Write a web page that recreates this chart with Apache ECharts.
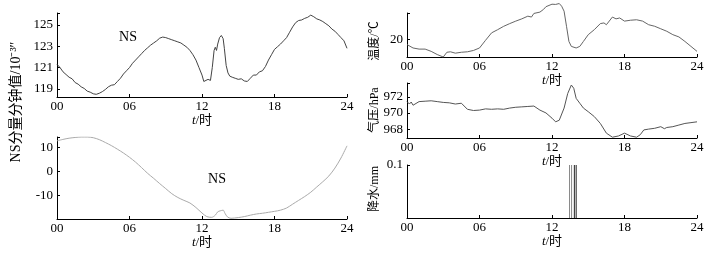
<!DOCTYPE html>
<html><head><meta charset="utf-8">
<script src="https://cdn.jsdelivr.net/npm/echarts@6/dist/echarts.min.js"></script>
<style>html,body{margin:0;padding:0;background:#fff}#c{width:725px;height:256px}</style>
</head><body><div id="c"></div>
<script>
// ---- data ----
const hourTickLabels = ['00', '06', '12', '18', '24'];

const nsHours = [0,0.25,0.5,0.75,1,1.25,1.5,1.75,2,2.25,2.5,2.75,3,3.25,3.5,3.75,4,4.25,4.5,4.75,5,5.25,5.5,5.75,6,6.25,6.5,6.75,7,7.25,7.5,7.75,8,8.25,8.5,8.75,9,9.25,9.5,9.75,10,10.25,10.5,10.75,11,11.25,11.5,11.75,12,12.15,12.3,12.5,12.7,12.85,13,13.1,13.2,13.3,13.45,13.6,13.75,13.85,14,14.15,14.3,14.5,14.75,15,15.25,15.5,15.75,16,16.25,16.5,16.75,17,17.25,17.5,17.75,18,18.25,18.5,18.75,19,19.25,19.5,19.75,20,20.25,20.5,20.75,21,21.25,21.5,21.75,22,22.25,22.5,22.75,23,23.25,23.5,23.75,24];
const nsMinute = [121.3,121.0,120.6,120.35,120.1,119.95,119.6,119.45,119.2,119.05,118.8,118.7,118.55,118.5,118.6,118.75,118.95,119.2,119.35,119.4,119.7,120.0,120.4,120.7,121.0,121.4,121.7,122.0,122.3,122.6,122.85,123.1,123.3,123.5,123.75,123.85,123.8,123.7,123.6,123.5,123.4,123.3,123.1,122.9,122.6,122.2,121.7,121.0,120.3,119.7,119.55,119.9,119.8,121.0,122.6,122.9,122.6,123.2,123.8,124.0,123.7,122.8,121.2,120.5,120.2,120.1,120.0,119.9,119.95,119.75,119.7,120.0,120.3,120.3,120.6,120.7,121.1,121.7,122.2,122.7,122.95,123.2,123.5,123.8,124.3,124.8,125.2,125.4,125.45,125.6,125.7,125.9,125.75,125.55,125.45,125.3,125.1,124.9,124.6,124.4,124.1,123.8,123.5,122.8];

const nsSmoothHours = [0,0.5,1,1.5,2,2.5,3,3.5,4,4.5,5,5.5,6,6.5,7,7.5,8,8.5,9,9.5,10,10.5,11,11.5,12,12.4,12.8,13.1,13.3,13.5,13.75,13.9,14.1,14.4,15,15.5,16,16.5,17,17.5,18,18.5,19,19.5,20,20.5,21,21.5,22,22.5,23,23.5,24];
const nsSmooth = [12.7,13.3,13.8,14.1,14.3,14.3,14.0,13.2,12.0,10.7,9.2,7.6,5.8,3.8,1.5,-0.9,-3.0,-5.2,-7.3,-9.4,-11.0,-12.2,-13.3,-15.2,-17.5,-19.0,-19.3,-18.4,-17.0,-16.6,-16.3,-17.6,-19.1,-19.7,-19.4,-19.0,-18.4,-17.9,-17.6,-17.2,-16.8,-16.3,-15.4,-13.8,-12.2,-10.6,-8.8,-6.6,-4.4,-2.0,1.3,5.5,10.6];

const tempHours = [0,0.5,1,1.5,2,2.5,3,3.3,3.6,4,4.5,5,5.5,6,6.5,7,7.5,8,8.5,9,9.5,10,10.3,10.5,11,11.3,11.5,12,12.3,12.6,12.8,13,13.2,13.4,13.6,14,14.3,14.6,15,15.5,16,16.3,16.5,17,17.3,17.6,18,18.5,19,19.5,20,20.5,21,21.5,22,22.5,23,23.5,24];
const temperature = [18.9,18.15,17.9,17.9,17.4,16.7,16.15,17.2,17.3,17.0,17.2,17.3,17.6,18.15,19.85,21.5,22.2,22.95,23.55,24.1,24.6,25.2,25.0,25.8,26.1,26.7,27.3,27.85,27.8,28.0,27.4,26.3,22.96,19.6,18.5,18.15,18.5,19.6,21.1,22.2,23.55,23.7,23.3,25.0,24.6,24.8,24.1,24.3,24.4,24.1,23.3,22.96,22.4,21.85,21.1,20.6,19.6,18.5,17.4];

const pressHours = [0,0.2,0.35,0.5,1,1.5,2,2.5,3,3.5,4,4.5,5,5.5,6,6.5,7,7.5,8,8.5,9,9.5,10,10.5,11,11.5,12,12.3,12.6,13,13.3,13.6,13.8,14,14.3,14.6,15,15.5,16,16.5,17,17.5,18,18.5,19,19.3,19.6,20,20.5,21,21.3,21.5,22,22.5,23,23.5,24];
const pressure = [971.4,971.1,971.35,970.95,971.4,971.45,971.5,971.4,971.3,971.25,971.1,971.2,970.45,970.3,970.35,970.5,970.45,970.5,970.45,970.6,970.7,970.75,970.8,970.85,970.35,970.0,969.35,968.9,969.1,970.6,972.4,973.45,973.05,971.8,971.2,970.6,970.15,969.55,968.7,967.5,967.0,967.15,967.5,967.15,967.0,967.3,967.9,968.0,968.1,968.3,968.05,968.2,968.3,968.5,968.7,968.8,968.9];

const rainHours = [13.45, 13.62, 13.85, 14.0];
const rainfall = [0.1, 0.1, 0.1, 0.1];

// ---- chart ----
const FONT = '"Liberation Serif","Times New Roman","Noto Sans CJK SC",serif';
const zip = (a, b) => a.map((v, i) => [v, b[i]]);

function xAxis(gi) {
  return {
    type: 'value', gridIndex: gi, min: 0, max: 24, interval: 6,
    axisLine: { show: true, onZero: false, lineStyle: { color: '#000', width: 1 } },
    axisTick: { show: true, inside: true, length: 3, lineStyle: { color: '#000' } },
    axisLabel: { color: '#000', fontFamily: FONT, fontSize: 13, margin: 3,
      formatter: v => hourTickLabels[Math.round(v / 6)] },
    splitLine: { show: false },
    name: '{i|t}/时', nameLocation: 'middle', nameGap: 14,
    nameTextStyle: { color: '#000', fontFamily: FONT, fontSize: 13,
      rich: { i: { fontStyle: 'italic', fontFamily: FONT, fontSize: 13, color: '#000' } } }
  };
}
function yAxis(gi, min, max, labels, ticks) {
  return {
    type: 'value', gridIndex: gi, min: min, max: max,
    axisLine: { show: true, onZero: false, lineStyle: { color: '#000', width: 1 } },
    axisTick: { show: true, inside: true, length: 3, customValues: ticks, lineStyle: { color: '#000' } },
    axisLabel: { color: '#000', fontFamily: FONT, fontSize: 13, margin: 4, customValues: labels,
      formatter: v => String(v) },
    splitLine: { show: false }
  };
}

const chart = echarts.init(document.getElementById('c'), null, { renderer: 'canvas' });
chart.setOption({
  animation: false,
  backgroundColor: '#fff',
  grid: [
    { left: 57, right: 378, top: 13, height: 84 },
    { left: 57, right: 378, top: 137, height: 82 },
    { left: 407, right: 28, top: 13, height: 44 },
    { left: 407, right: 28, top: 83, height: 55 },
    { left: 407, right: 28, top: 165, height: 53 }
  ],
  xAxis: [xAxis(0), xAxis(1), xAxis(2), xAxis(3), xAxis(4)],
  yAxis: [
    yAxis(0, 118.25, 126.1, [119, 121, 123, 125], [119, 121, 123, 125, 126.1]),
    yAxis(1, -20, 14.3, [-10, 0, 10], [-10, 0, 10, 14.3]),
    yAxis(2, 16.15, 25.9, [20], [20, 25.9]),
    yAxis(3, 966.9, 973.7, [968, 970, 972], [968, 970, 972, 973.7]),
    yAxis(4, 0, 0.1, [0.1], [0.1])
  ],
  series: [
    { type: 'line', xAxisIndex: 0, yAxisIndex: 0, data: zip(nsHours, nsMinute), showSymbol: false,
      lineStyle: { color: '#444', width: 1 } },
    { type: 'line', xAxisIndex: 1, yAxisIndex: 1, data: zip(nsSmoothHours, nsSmooth), showSymbol: false,
      smooth: 0.3, lineStyle: { color: '#aaa', width: 1 } },
    { type: 'line', xAxisIndex: 2, yAxisIndex: 2, data: zip(tempHours, temperature), showSymbol: false,
      clip: false, lineStyle: { color: '#666', width: 1 } },
    { type: 'line', xAxisIndex: 3, yAxisIndex: 3, data: zip(pressHours, pressure), showSymbol: false,
      clip: false, lineStyle: { color: '#555', width: 1 } },
    { type: 'bar', xAxisIndex: 4, yAxisIndex: 4, barWidth: 1,
      data: zip(rainHours, rainfall).map((d, i) => ({ value: d, itemStyle: { color: i < 2 ? '#888' : '#222' } })) }
  ],
  graphic: [
    { type: 'text', x: 128, y: 37, style: { text: 'NS', font: '14px ' + FONT, fill: '#000', textAlign: 'center', textVerticalAlign: 'middle' } },
    { type: 'text', x: 217, y: 179, style: { text: 'NS', font: '14px ' + FONT, fill: '#000', textAlign: 'center', textVerticalAlign: 'middle' } },
    { type: 'text', x: 16, y: 102, rotation: Math.PI / 2, style: { text: 'NS分量分钟值/10⁻³″', font: '14px ' + FONT, fill: '#000', textAlign: 'center', textVerticalAlign: 'middle' } },
    { type: 'text', x: 375, y: 41, rotation: Math.PI / 2, style: { text: '温度/℃', font: '12px ' + FONT, fill: '#000', textAlign: 'center', textVerticalAlign: 'middle' } },
    { type: 'text', x: 375, y: 110, rotation: Math.PI / 2, style: { text: '气压/hPa', font: '12px ' + FONT, fill: '#000', textAlign: 'center', textVerticalAlign: 'middle' } },
    { type: 'text', x: 375, y: 189, rotation: Math.PI / 2, style: { text: '降水/mm', font: '12px ' + FONT, fill: '#000', textAlign: 'center', textVerticalAlign: 'middle' } }
  ]
});
</script></body></html>
